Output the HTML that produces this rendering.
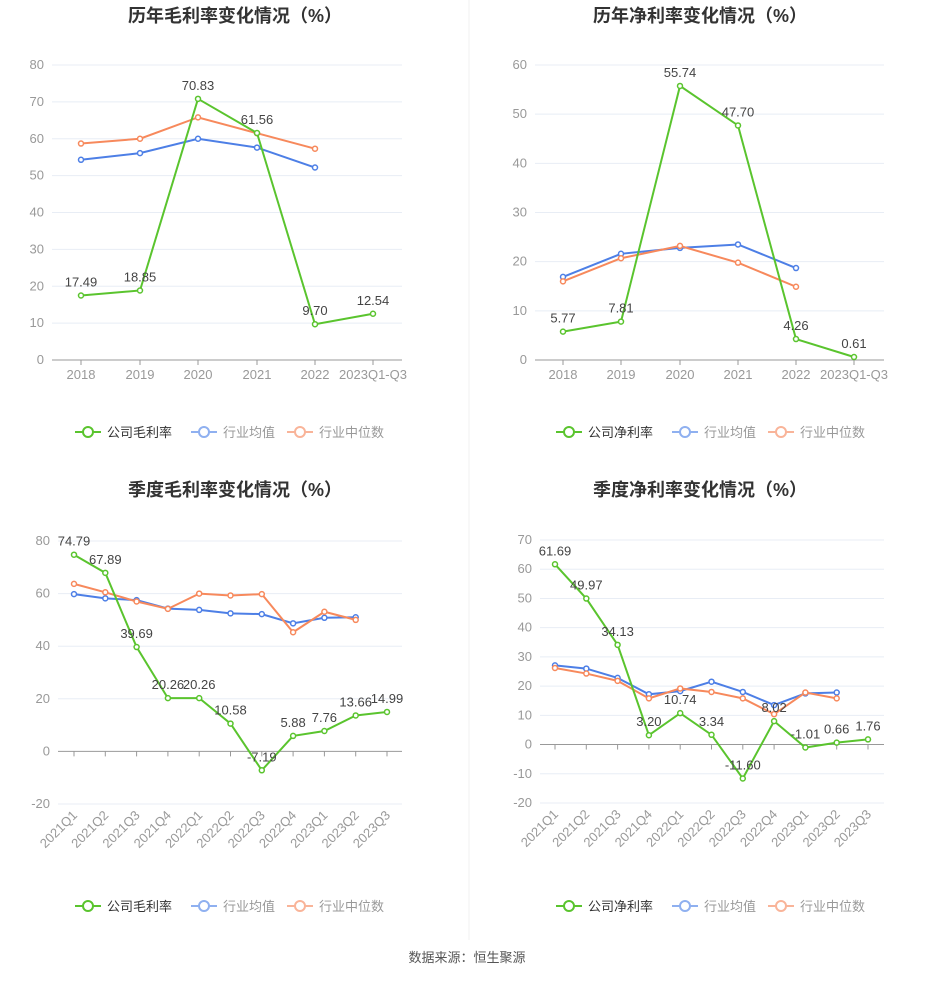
<!DOCTYPE html>
<html><head><meta charset="utf-8"><style>
body{margin:0;background:#fff;width:935px;height:980px;overflow:hidden}
svg{font-family:"Liberation Sans","Noto Sans CJK SC",sans-serif}
</style></head><body>
<svg id="s" width="935" height="980" xmlns="http://www.w3.org/2000/svg"></svg>
<script>
const G='#5ac42e',B='#4d7fe6',O='#f7895c';
let h='';
h+='<line x1="469" y1="0" x2="469" y2="940" stroke="#f0f0f0"/>';
function chart(c){
  const {x0,x1,ymax,ymin,ytop,ybot,step,xs,cats,rot,title,tx,tty,leg,ly,series,labels}=c;
  const Y=v=>ytop+(ymax-v)/(ymax-ymin)*(ybot-ytop);
  h+=`<text x="${tx}" y="${tty}" font-size="18" font-weight="bold" fill="#333" text-anchor="middle">${title}</text>`;
  for(let v=ymin;v<=ymax;v+=step){
    const y=Y(v);
    h+=`<line x1="${x0}" y1="${y}" x2="${x1}" y2="${y}" stroke="${v===0?'#999':'#e8edf5'}" stroke-width="1"/>`;
    h+=`<text x="${x0-8}" y="${y+4}" font-size="13" fill="#999" text-anchor="end">${v}</text>`;
  }
  const y0=Y(0);
  xs.forEach((x,i)=>{
    h+=`<line x1="${x}" y1="${y0}" x2="${x}" y2="${y0+5}" stroke="#999"/>`;
    if(rot) h+=`<text transform="translate(${x+4},${ybot+12}) rotate(-45)" font-size="13" fill="#999" text-anchor="end">${cats[i]}</text>`;
    else h+=`<text x="${x}" y="${y0+19}" font-size="13" fill="#999" text-anchor="middle">${cats[i]}</text>`;
  });
  series.forEach(([col,d])=>{
    const pts=d.map((v,i)=>xs[i]+','+Y(v)).join(' ');
    h+=`<polyline points="${pts}" fill="none" stroke="${col}" stroke-width="2"/>`;
    d.forEach((v,i)=>h+=`<circle cx="${xs[i]}" cy="${Y(v)}" r="2.5" fill="#fff" stroke="${col}" stroke-width="1.5"/>`);
  });
  const gd=series[series.length-1][1];
  gd.forEach((v,i)=>h+=`<text x="${xs[i]}" y="${Y(v)-9}" font-size="13" fill="#444" text-anchor="middle">${labels[i]}</text>`);
  const items=[[G,leg,'#333'],[B,'行业均值','#999'],[O,'行业中位数','#999']];
  let lx=c.lx;
  items.forEach(([col,t,tc],k)=>{
    const cc=k==0?col:(k==1?'#8fb0f0':'#f9b499');
    h+=`<line x1="${lx}" y1="${ly}" x2="${lx+26}" y2="${ly}" stroke="${cc}" stroke-width="2"/><circle cx="${lx+13}" cy="${ly}" r="5" fill="#fff" stroke="${cc}" stroke-width="2"/>`;
    h+=`<text x="${lx+32}" y="${ly+5}" font-size="13" fill="${tc}">${t}</text>`;
    lx+= k==0?116:(k==1?96:0);
  });
}
const x6a=[81,140,198,257,315,373],x6b=[563,621,680,738,796,854];
const yrs=['2018','2019','2020','2021','2022','2023Q1-Q3'];
const q=['2021Q1','2021Q2','2021Q3','2021Q4','2022Q1','2022Q2','2022Q3','2022Q4','2023Q1','2023Q2','2023Q3'];
const xa=q.map((_,i)=>74+i*31.3),xb=q.map((_,i)=>555+i*31.3);
chart({x0:52,x1:402,ymax:80,ymin:0,ytop:65,ybot:360,step:10,xs:x6a,cats:yrs,title:'历年毛利率变化情况（%）',tx:235,tty:22,leg:'公司毛利率',ly:432,lx:75,
 series:[[B,[54.3,56.1,60.0,57.6,52.2]],[O,[58.7,60.0,65.8,61.5,57.3]],[G,[17.49,18.85,70.83,61.56,9.70,12.54]]],labels:['17.49','18.85','70.83','61.56','9.70','12.54']});
chart({x0:535,x1:884,ymax:60,ymin:0,ytop:65,ybot:360,step:10,xs:x6b,cats:yrs,title:'历年净利率变化情况（%）',tx:700,tty:22,leg:'公司净利率',ly:432,lx:556,
 series:[[B,[16.9,21.6,22.8,23.5,18.7]],[O,[16.0,20.7,23.2,19.8,14.9]],[G,[5.77,7.81,55.74,47.70,4.26,0.61]]],labels:['5.77','7.81','55.74','47.70','4.26','0.61']});
chart({x0:58,x1:402,ymax:80,ymin:-20,ytop:541,ybot:804,step:20,xs:xa,cats:q,rot:1,title:'季度毛利率变化情况（%）',tx:235,tty:496,leg:'公司毛利率',ly:906,lx:75,
 series:[[B,[59.8,58.2,57.5,54.3,53.8,52.5,52.2,48.7,50.8,51.0]],[O,[63.7,60.5,57.0,54.2,60.0,59.3,59.8,45.3,53.1,50.0]],[G,[74.79,67.89,39.69,20.26,20.26,10.58,-7.19,5.88,7.76,13.66,14.99]]],
 labels:['74.79','67.89','39.69','20.26','20.26','10.58','-7.19','5.88','7.76','13.66','14.99']});
chart({x0:540,x1:884,ymax:70,ymin:-20,ytop:540,ybot:803,step:10,xs:xb,cats:q,rot:1,title:'季度净利率变化情况（%）',tx:700,tty:496,leg:'公司净利率',ly:906,lx:556,
 series:[[B,[27.1,26.0,22.8,17.2,18.3,21.5,18.0,13.5,17.5,17.8]],[O,[26.2,24.3,21.8,15.8,19.2,18.0,15.8,10.4,17.8,15.8]],[G,[61.69,49.97,34.13,3.20,10.74,3.34,-11.60,8.02,-1.01,0.66,1.76]]],
 labels:['61.69','49.97','34.13','3.20','10.74','3.34','-11.60','8.02','-1.01','0.66','1.76']});
h+='<text x="467" y="962" font-size="13" fill="#555" text-anchor="middle">数据来源：恒生聚源</text>';
document.getElementById('s').innerHTML=h;
</script>
</body></html>
